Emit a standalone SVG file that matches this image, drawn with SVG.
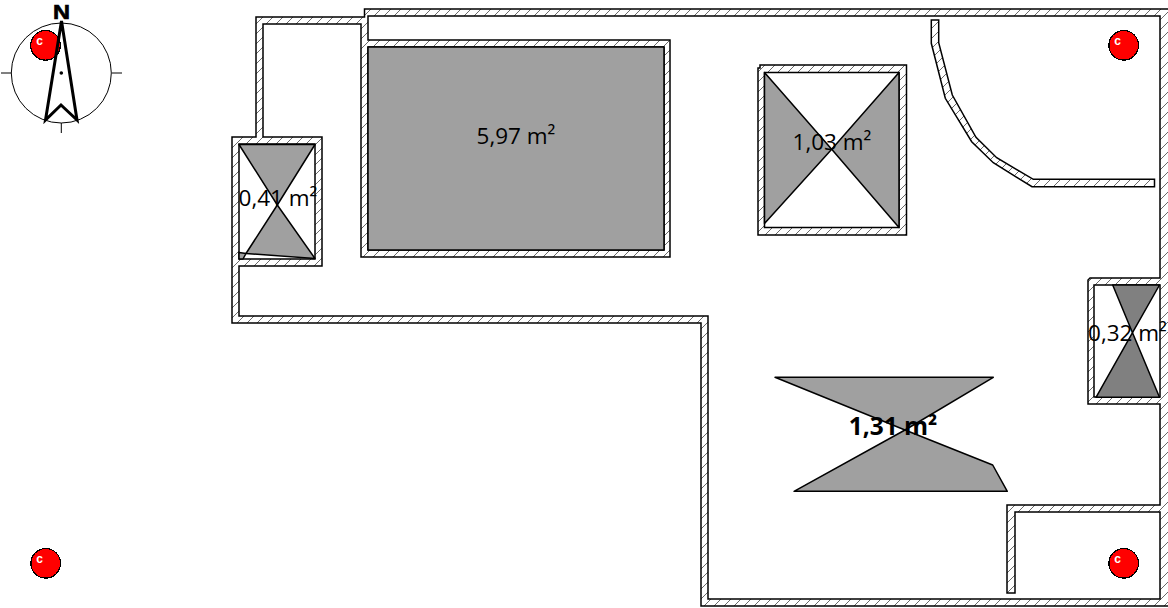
<svg xmlns="http://www.w3.org/2000/svg" width="1168" height="608" viewBox="0 0 1168 608">
<defs>
<pattern id="hatch" patternUnits="userSpaceOnUse" width="10" height="10">
<rect width="10" height="10" fill="#fff"/>
<path d="M-2.5 2.5L2.5 -2.5M-2.5 12.5L12.5 -2.5M7.5 12.5L12.5 7.5" stroke="#444" stroke-width="0.8" fill="none"/>
</pattern>
</defs>
<style>
.wall{fill:url(#hatch);stroke:#000;stroke-width:1.5;fill-rule:evenodd;stroke-linejoin:miter}
.area{fill:#a0a0a0;stroke:#000;stroke-width:1.5;stroke-linejoin:round}
.dark{fill:#808080}
.lbl{font-family:"Open Sans","Noto Sans",sans-serif;font-size:22.5px;fill:#000;text-anchor:middle}
.pin{fill:#f00;stroke:#000;stroke-width:1.2;shape-rendering:crispEdges}
.pint{font-family:"Liberation Sans",sans-serif;font-size:12px;font-weight:bold;fill:#fff;text-anchor:middle}
</style>
<rect width="1168" height="608" fill="#fff"/>
<g id="walls">
<path class="wall" d="M256 17H364.5V9H1175V606H701V323H232V137H256Z
M368 16H1160V278H1090L1088 280V404H1160V505H1007V593H1015V512H1160V599H708V316H239V266H322V137H263V24H361V257H670V40H368Z
M239 144H315V259H239Z
M368 47H664V250H368Z
M1094 285H1160V397H1094Z"/>
<path class="wall" d="M760 65H906.5V235H758V68H760Z M764.5 72.5H899V227.5H764.5Z"/>
<path class="wall" d="M931.3 20V43.3L945.3 98.3L971.7 141.7L993.3 162.7L1032 186.7H1154.5V179.3H1033.3L996.7 157.7L976 137.3L952.3 95L938.7 42.7V20Z"/>
</g>
<g id="room-597">
<rect class="area" x="368" y="47" width="296" height="203"/>
<text class="lbl" x="516" y="144">5,97 m²</text>
</g>
<g id="room-041">
<path class="area" d="M239 144.500H315L277.300 205Z"/>
<path class="area" d="M277.300 205L315 258.500L246 253.500Z"/>
<path class="area" d="M239 252.500L246 253.500L243 259H239Z"/>
<text class="lbl" x="278" y="206">0,41 m²</text>
</g>
<g id="room-103">
<path class="area" d="M764.500 72.500L831.700 149.300L764.500 223.500Z"/>
<path class="area" d="M899 72.500L831.700 149.300L899 227.500Z"/>
<text class="lbl" x="832" y="150">1,03 m²</text>
</g>
<g id="room-032">
<path class="area dark" d="M1112.700 285H1159.500L1132.500 332.700Z"/>
<path class="area dark" d="M1132.500 332.700L1159.500 397.300H1096Z"/>
<text class="lbl" x="1127.500" y="341">0,32 m²</text>
</g>
<g id="room-131">
<path class="area" d="M775 377.300H993.300L905 430Z"/>
<path class="area" d="M905 430L992.700 465L1007.300 491.300H794Z"/>
<text class="lbl" x="893" y="434.500" style="font-size:24.500px" font-weight="bold">1,31 m²</text>
</g>
<g id="pins">
<circle class="pin" cx="45.500" cy="45.300" r="14.800"/><text class="pint" x="39.500" y="44.500">c</text>
<circle class="pin" cx="1123.700" cy="45.300" r="14.800"/><text class="pint" x="1117.500" y="44.500">c</text>
<circle class="pin" cx="45.700" cy="563.300" r="14.800"/><text class="pint" x="39.500" y="562.500">c</text>
<circle class="pin" cx="1123.700" cy="563.300" r="14.800"/><text class="pint" x="1117.500" y="562.500">c</text>
</g>
<g id="compass">
<circle cx="61.300" cy="73" r="50" fill="none" stroke="#000" stroke-width="1"/>
<path d="M1 73H11M112 73H122M61.300 123V133" stroke="#000" stroke-width="1" fill="none"/>
<path d="M61.500 21L45.500 120L61 105L77 120Z" fill="none" stroke="#000" stroke-width="3" stroke-linejoin="miter"/>
<circle cx="61.300" cy="73" r="1.800" fill="#000"/>
<text x="53" y="18.500" font-family="Liberation Sans, sans-serif" font-size="21" font-weight="bold" textLength="17" lengthAdjust="spacingAndGlyphs" fill="#000" stroke="#000" stroke-width="0.7">N</text>
</g>
</svg>
